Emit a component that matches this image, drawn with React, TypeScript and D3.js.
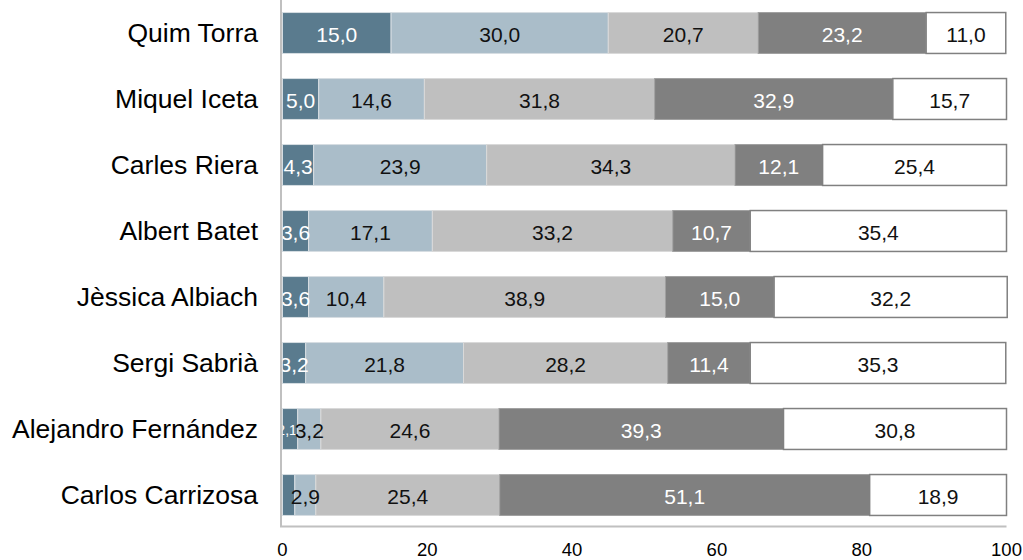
import React from "react";
import * as d3 from "d3";

const categories = [
  "Quim Torra",
  "Miquel Iceta",
  "Carles Riera",
  "Albert Batet",
  "Jèssica Albiach",
  "Sergi Sabrià",
  "Alejandro Fernández",
  "Carlos Carrizosa",
];
const series1 = [15.0, 5.0, 4.3, 3.6, 3.6, 3.2, 2.1, 1.7];
const series2 = [30.0, 14.6, 23.9, 17.1, 10.4, 21.8, 3.2, 2.9];
const series3 = [20.7, 31.8, 34.3, 33.2, 38.9, 28.2, 24.6, 25.4];
const series4 = [23.2, 32.9, 12.1, 10.7, 15.0, 11.4, 39.3, 51.1];
const series5 = [11.0, 15.7, 25.4, 35.4, 32.2, 35.3, 30.8, 18.9];
const xTicks = [0, 20, 40, 60, 80, 100];

const seriesList = [series1, series2, series3, series4, series5];
const fills = ["#5a7b8e", "#aabdc9", "#bfbfbf", "#808080", "#ffffff"];
const strokes = ["#d6dde2", "#d6dde2", "#d9d9d9", "#a0a0a0", "#808080"];
const textColors = ["#ffffff", "#111111", "#111111", "#ffffff", "#111111"];

export default function App() {
  const W = 1023;
  const H = 560;
  const left = 282.5;
  const right = 1006.5;
  const x = d3.scaleLinear().domain([0, 100]).range([left, right]);
  const y = d3
    .scaleBand<string>()
    .domain(categories)
    .range([0, 528])
    .paddingInner(0.38)
    .paddingOuter(0.19);

  const fmt = (v: number) => v.toFixed(1).replace(".", ",");

  const rows = categories.map((c, i) => {
    let acc = 0;
    const segs = seriesList.map((s, k) => {
      const v = s[i];
      const x0 = acc;
      acc += v;
      return { k, v, x0, x1: acc };
    });
    return { c, segs };
  });

  return (
    <div style={{ position: "absolute", left: 0, top: 0 }}>
      <svg width={W} height={H} style={{ display: "block" }} fontFamily="'Liberation Sans', Arial, sans-serif">
        <defs>
          <clipPath id="plotclip">
            <rect x={left} y={0} width={right - left + 4} height={530} />
          </clipPath>
        </defs>
        <rect x={0} y={0} width={W} height={H} fill="#ffffff" />
        {rows.map((r) => {
          const by = y(r.c)!;
          const bh = y.bandwidth();
          return (
            <g key={r.c}>
              {r.segs.map((s) => (
                <rect
                  key={s.k}
                  x={x(s.x0)}
                  y={by}
                  width={x(s.x1) - x(s.x0)}
                  height={bh}
                  fill={fills[s.k]}
                  stroke={strokes[s.k]}
                  strokeWidth={s.k === 4 ? 1.5 : 1}
                />
              ))}
              <g clipPath="url(#plotclip)">
                {r.segs
                  .filter((s) => s.v >= 2)
                  .map((s) => {
                    const segW = x(s.x1) - x(s.x0);
                    const small = segW < 20;
                    return (
                      <text
                        key={s.k}
                        x={(x(s.x0) + x(s.x1)) / 2 - (small ? 3 : 0)}
                        y={by + bh / 2 + 1}
                        textAnchor="middle"
                        dominantBaseline="central"
                        fontSize={small ? 14 : 21}
                        fill={textColors[s.k]}
                      >
                        {fmt(s.v)}
                      </text>
                    );
                  })}
              </g>
              <text
                x={258}
                y={by + bh / 2}
                textAnchor="end"
                dominantBaseline="central"
                fontSize={26.5}
                fill="#000000"
              >
                {r.c}
              </text>
            </g>
          );
        })}
        <line x1={281} x2={281} y1={0} y2={527} stroke="#c0c0c0" strokeWidth={2} />
        <line x1={280} x2={right} y1={526.5} y2={526.5} stroke="#c0c0c0" strokeWidth={2} />
        {xTicks.map((t) => (
          <text
            key={t}
            x={x(t)}
            y={549.5}
            textAnchor="middle"
            dominantBaseline="central"
            fontSize={18.5}
            fill="#000000"
          >
            {t}
          </text>
        ))}
      </svg>
    </div>
  );
}
